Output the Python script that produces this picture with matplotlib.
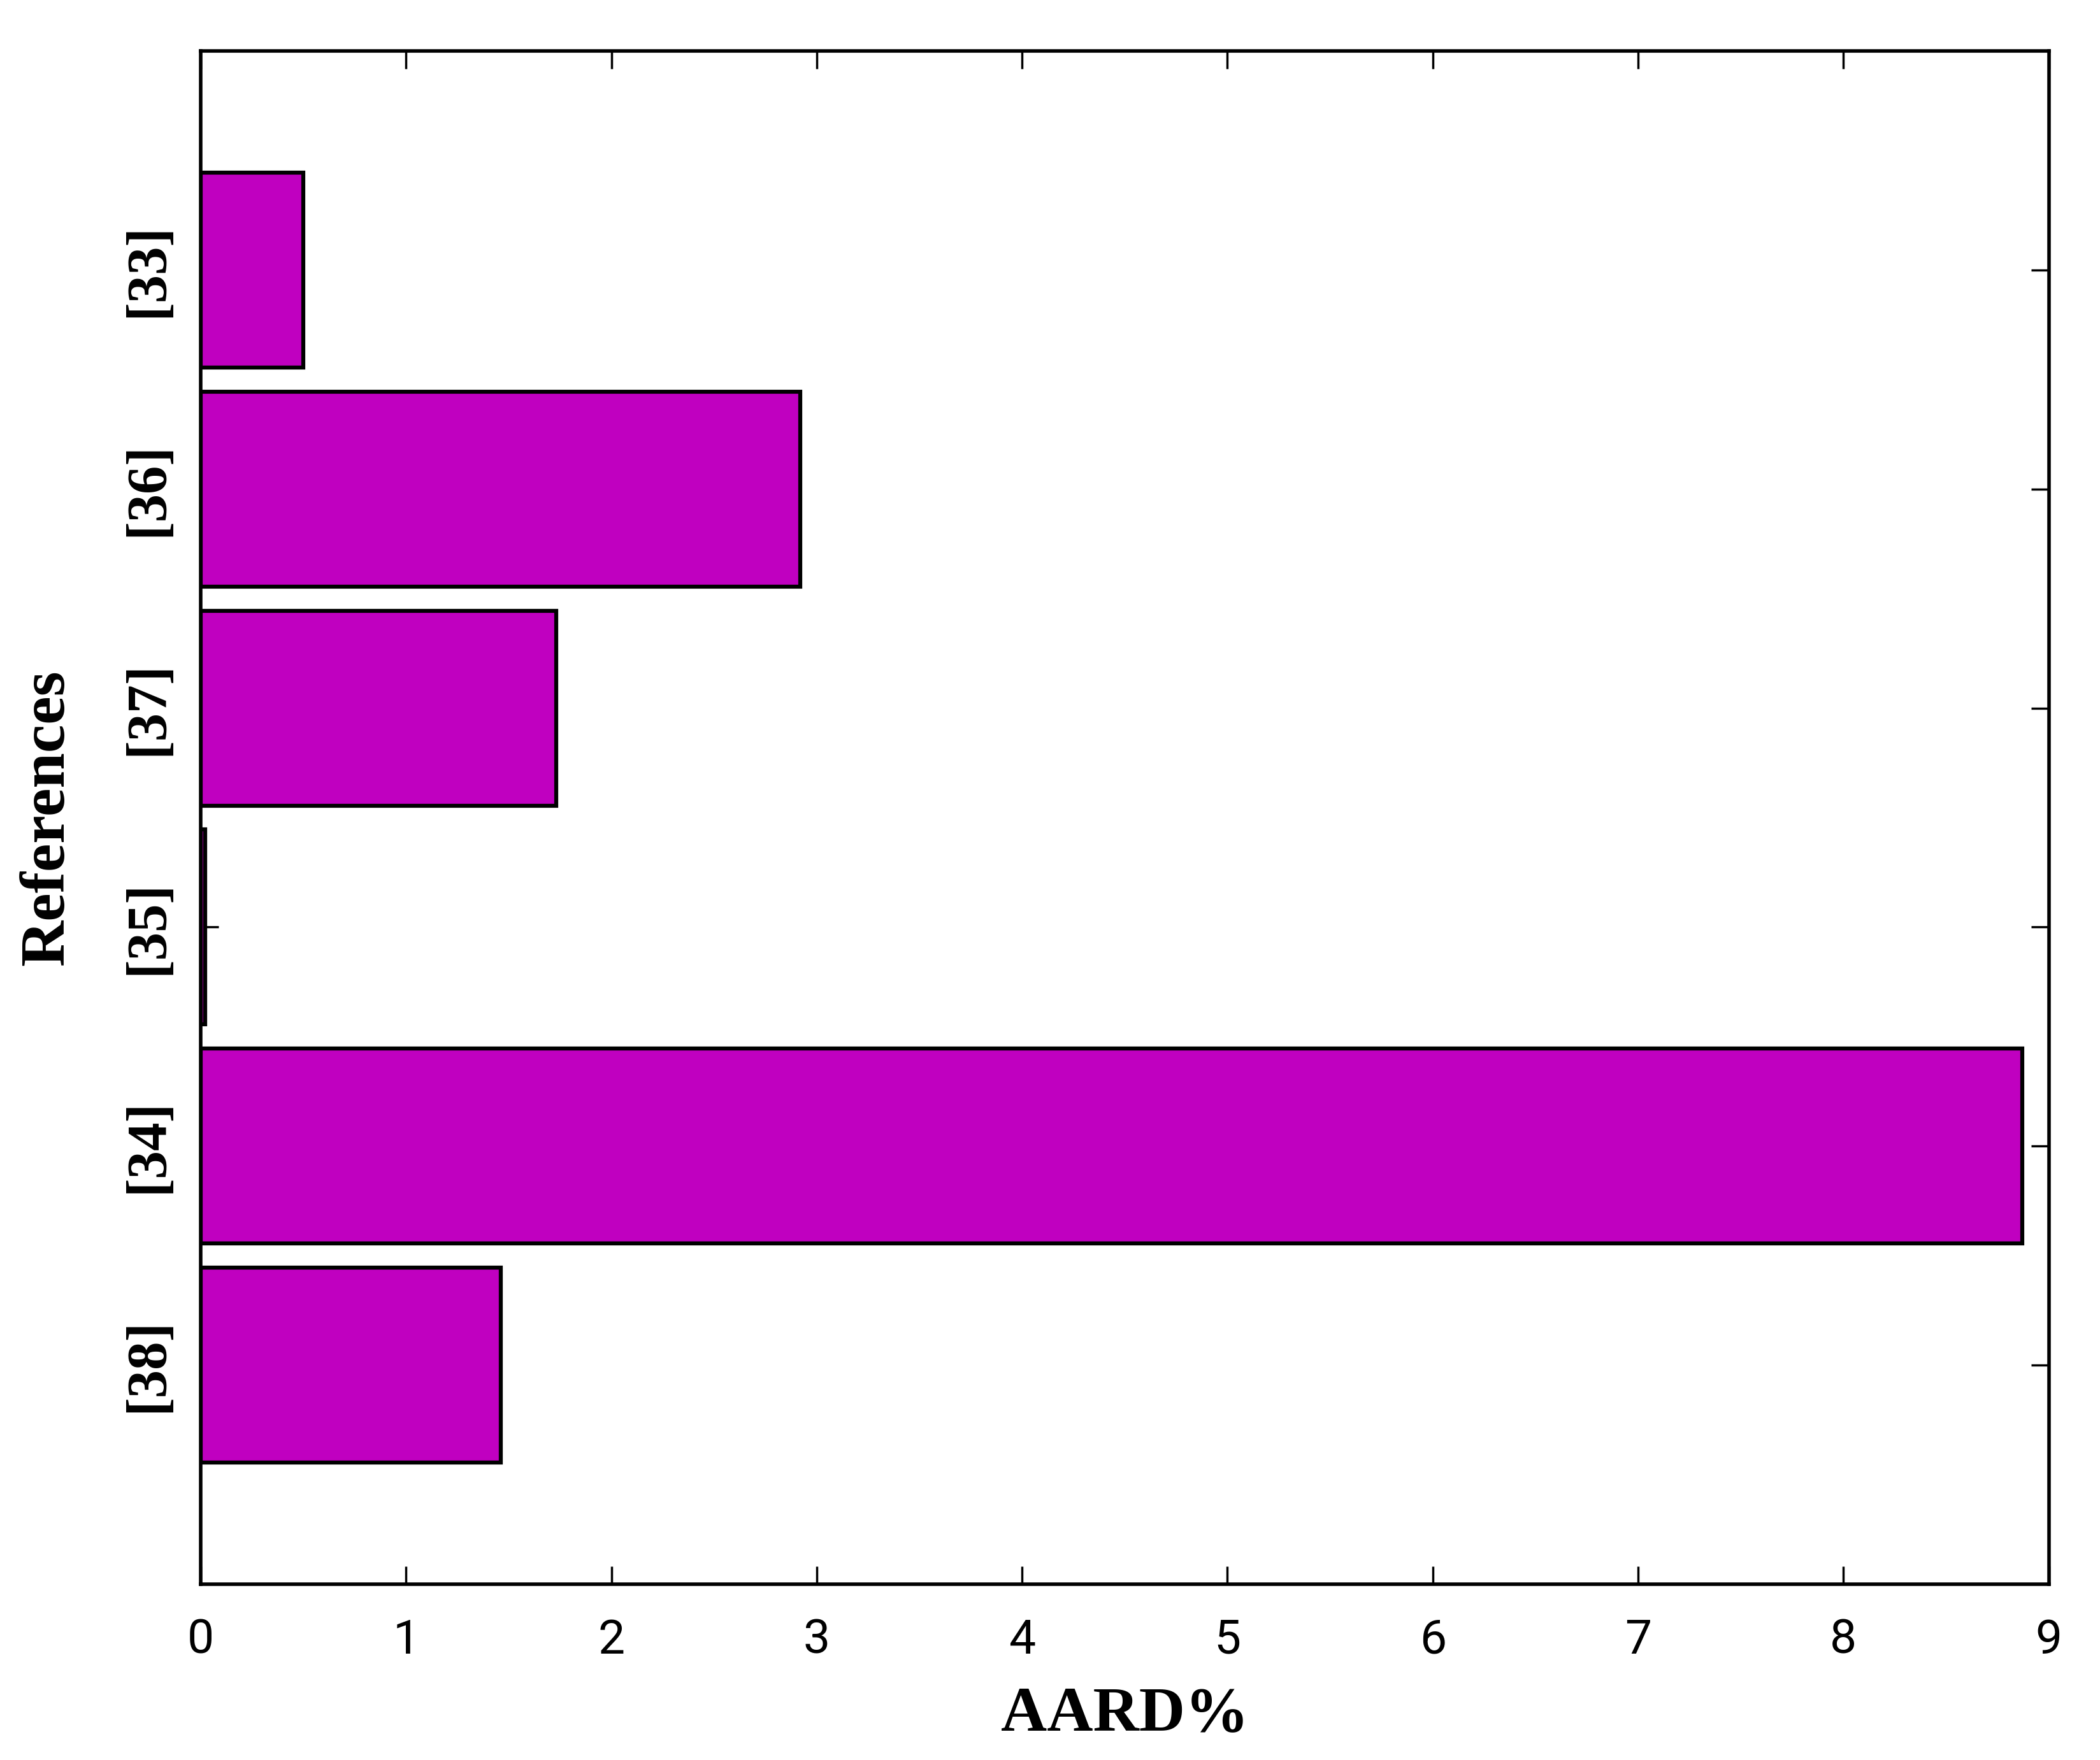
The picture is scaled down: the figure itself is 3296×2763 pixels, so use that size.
import matplotlib
matplotlib.use("Agg")
import matplotlib.pyplot as plt

categories = ["[38]", "[34]", "[35]", "[37]", "[36]", "[33]"]
aard = [1.46, 8.87, 0.02, 1.73, 2.92, 0.50]
xticks = [0, 1, 2, 3, 4, 5, 6, 7, 8, 9]

fig = plt.figure(figsize=(32.96, 27.63), dpi=100)
ax = fig.add_axes([0.0956, 0.0999, 0.88, 0.8711])

pos = list(range(len(categories)))
ax.barh(pos, aard, height=0.89, color="#C000C0", edgecolor="black", linewidth=4.5, zorder=1)
ax.set_axisbelow(True)

ax.set_xlim(0, 9)
ax.set_ylim(-1, 6)
ax.set_xticks(xticks)
ax.set_xticklabels([str(t) for t in xticks],
                   fontfamily=["Liberation Sans Narrow", "Roboto", "DejaVu Sans"],
                   fontweight="normal", fontsize=54)
ax.set_yticks(pos)
ax.set_yticklabels(categories, rotation=90, va="center",
                   fontfamily="Liberation Serif", fontweight="bold", fontsize=64)

ax.tick_params(axis="x", direction="in", length=20, width=2.5, top=True, bottom=True, pad=38)
ax.tick_params(axis="y", direction="in", length=20, width=2.5, left=True, right=True, pad=30)

for s in ax.spines.values():
    s.set_linewidth(4)

ax.set_xlabel("AARD%", fontfamily="Liberation Serif", fontweight="bold", fontsize=72, labelpad=26)
ax.set_ylabel("References", fontfamily="Liberation Serif", fontweight="bold", fontsize=72, labelpad=52)

fig.savefig("out.png", dpi=100, facecolor="white")
